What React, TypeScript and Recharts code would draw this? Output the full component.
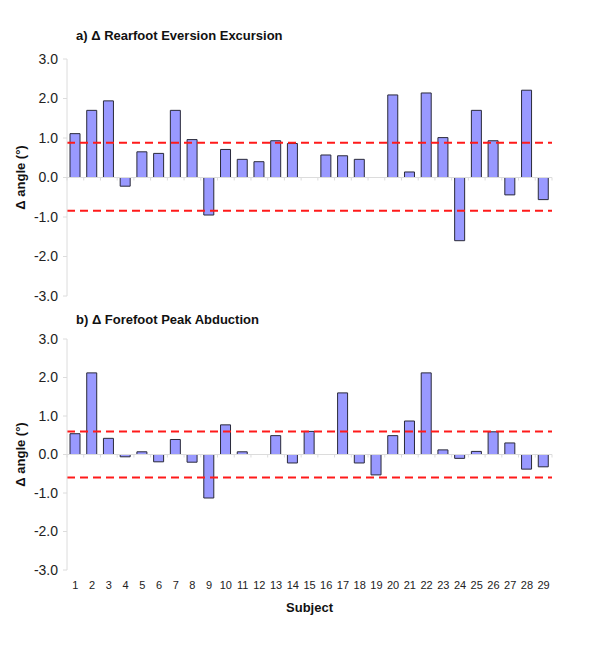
import { BarChart, Bar, XAxis, YAxis, ReferenceLine } from "recharts";

const subjects = Array.from({ length: 29 }, (_, i) => String(i + 1));

// a) rearfoot eversion excursion (null = no bar)
const rearfootValues = [
  1.11, 1.7, 1.94, -0.22, 0.65, 0.61, 1.7, 0.96, -0.95, 0.71, 0.46, 0.4, 0.93,
  0.86, null, 0.57, 0.55, 0.46, null, 2.09, 0.14, 2.14, 1.01, -1.6, 1.7, 0.93,
  -0.44, 2.21, -0.56,
];
const rearfootLimits = [0.88, -0.84];

// b) forefoot peak abduction
const forefootValues = [
  0.54, 2.12, 0.42, -0.06, 0.07, -0.19, 0.39, -0.2, -1.13, 0.77, 0.07, null,
  0.49, -0.22, 0.6, null, 1.6, -0.22, -0.53, 0.49, 0.87, 2.12, 0.12, -0.1,
  0.08, 0.59, 0.3, -0.38, -0.32,
];
const forefootLimits = [0.6, -0.6];

const yTicks = [-3, -2, -1, 0, 1, 2, 3];

const FONT = '"Liberation Sans", Arial, sans-serif';
const BAR_FILL = "#9999ff";
const GRID = "#dcdcdc";

const rearfootData = subjects.map((s, i) => ({ subject: s, value: rearfootValues[i] }));
const forefootData = subjects.map((s, i) => ({ subject: s, value: forefootValues[i] }));

// zero line with small ticks between categories
const zeroLine = (props: any) => {
  const { x1, x2, y1 } = props;
  const n = subjects.length;
  const step = (x2 - x1) / n;
  const ticks = [];
  for (let i = 0; i <= n; i++) {
    const x = x1 + i * step;
    ticks.push(<line key={i} x1={x} x2={x} y1={y1} y2={y1 + 3} stroke={GRID} />);
  }
  return (
    <g>
      <line x1={x1} x2={x2} y1={y1} y2={y1} stroke={GRID} />
      {ticks}
    </g>
  );
};

function Panel({
  data,
  limits,
  height,
  marginTop,
  showX,
}: {
  data: any[];
  limits: number[];
  height: number;
  marginTop: number;
  showX: boolean;
}) {
  return (
    <BarChart
      width={600}
      height={height}
      data={data}
      margin={{ top: marginTop, right: 48, bottom: showX ? 0 : 14, left: 0 }}
      barSize={10}
    >
      <XAxis
        dataKey="subject"
        hide={!showX}
        height={30}
        axisLine={false}
        tickLine={false}
        tickSize={0}
        tickMargin={11}
        interval={0}
        tick={{ fontSize: 11, fill: "#222", fontFamily: FONT }}
      />
      <YAxis
        domain={[-3, 3]}
        ticks={yTicks}
        width={67}
        interval={0}
        tickFormatter={(v: number) => v.toFixed(1)}
        axisLine={{ stroke: GRID }}
        tickLine={{ stroke: GRID }}
        tickSize={4}
        tickMargin={5}
        tick={{ fontSize: 14, fill: "#222", fontFamily: FONT }}
        label={{
          value: "Δ angle (°)",
          angle: -90,
          position: "center",
          dx: -13,
          style: { fontSize: 13, fontWeight: "bold", fill: "#111", fontFamily: FONT },
        }}
      />
      <ReferenceLine y={0} shape={zeroLine} />
      <Bar dataKey="value" fill={BAR_FILL} stroke="#2a2a3a" strokeWidth={1} isAnimationActive={false} />
      {limits.map((l, i) => (
        <ReferenceLine key={i} y={l} stroke="#ff1a1a" strokeWidth={2} strokeDasharray="8 5" />
      ))}
    </BarChart>
  );
}

const titleStyle: any = {
  position: "absolute",
  left: 76,
  fontFamily: FONT,
  fontWeight: "bold",
  fontSize: 13,
  color: "#111",
  lineHeight: "16px",
  whiteSpace: "nowrap",
};

export default function App() {
  return (
    <div
      style={{
        position: "absolute",
        top: 0,
        left: 0,
        width: 600,
        height: 647,
        background: "#fff",
        fontFamily: FONT,
      }}
    >
      <div style={{ ...titleStyle, top: 28 }}>a) Δ Rearfoot Eversion Excursion</div>
      <div style={{ position: "absolute", top: 0, left: 0 }}>
        <Panel data={rearfootData} limits={rearfootLimits} height={310} marginTop={59} showX={false} />
      </div>
      <div style={{ ...titleStyle, top: 312 }}>b) Δ Forefoot Peak Abduction</div>
      <div style={{ position: "absolute", top: 300, left: 0 }}>
        <Panel data={forefootData} limits={forefootLimits} height={300} marginTop={39} showX={true} />
      </div>
      <div
        style={{
          position: "absolute",
          top: 600,
          left: 67,
          width: 485,
          textAlign: "center",
          fontWeight: "bold",
          fontSize: 13,
          lineHeight: "16px",
          color: "#111",
        }}
      >
        Subject
      </div>
    </div>
  );
}
